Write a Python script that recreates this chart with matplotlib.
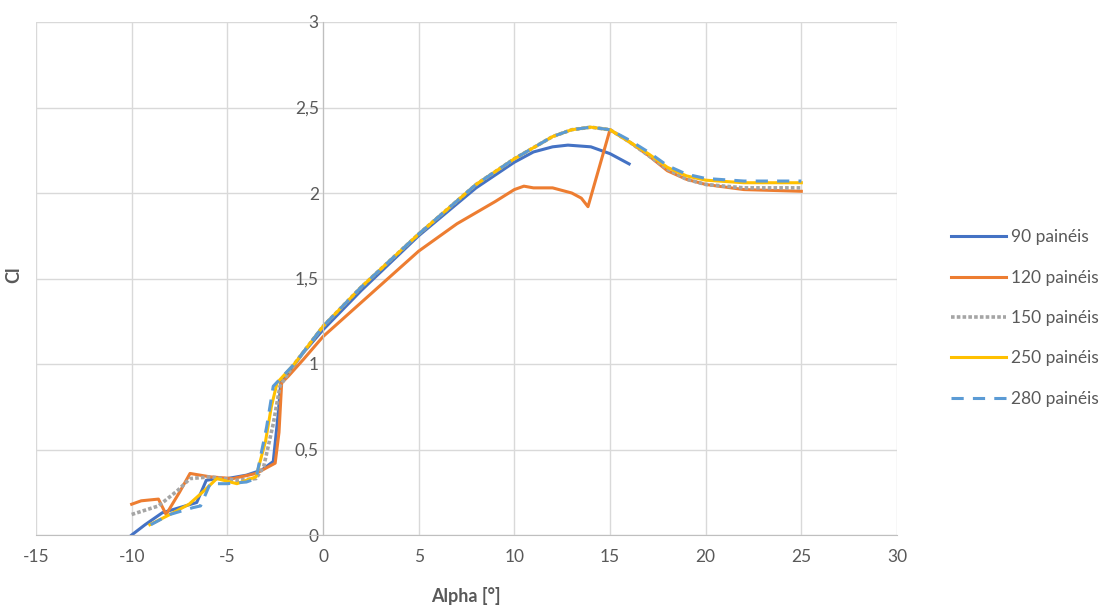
import numpy as np
from matplotlib import pyplot as plt

plt.rcParams['font.family'] = ['Lato', 'DejaVu Sans']
plt.rcParams['axes.unicode_minus'] = False

# 90 paineis
a90 = [-10, -9.3, -8.4, -7.5, -6.6, -6.1, -5.5, -5, -4, -3.2, -2.6, -2.35, -2.2, -1.8, -1, 0, 2, 5, 8, 10, 11, 12, 12.8, 14, 15, 16]
cl90 = [0.0, 0.06, 0.13, 0.16, 0.19, 0.32, 0.33, 0.33, 0.35, 0.38, 0.43, 0.7, 0.9, 0.95, 1.07, 1.2, 1.43, 1.75, 2.03, 2.18, 2.24, 2.27, 2.28, 2.27, 2.23, 2.17]

# 120 paineis
a120 = [-10, -9.5, -8.6, -8.2, -7.5, -6.95, -5.9, -4.7, -3.5, -2.5, -2.3, -2.16, -1.8, -1, 0, 2, 5, 7, 9, 10, 10.5, 11, 12, 13, 13.5, 13.85, 15, 16, 17, 18, 19, 20, 22, 25]
cl120 = [0.18, 0.2, 0.21, 0.12, 0.25, 0.36, 0.34, 0.33, 0.36, 0.42, 0.6, 0.89, 0.93, 1.03, 1.16, 1.36, 1.66, 1.82, 1.95, 2.02, 2.04, 2.03, 2.03, 2.0, 1.97, 1.92, 2.37, 2.3, 2.22, 2.13, 2.08, 2.05, 2.02, 2.01]

# 150 paineis
a150 = [-10, -8.6, -7.6, -6.95, -5.9, -4.5, -3.5, -3.1, -2.6, -2.25, -1.5, 0, 2, 5, 8, 10, 12, 13, 14, 15, 16, 17, 18, 19, 20, 22, 25]
cl150 = [0.12, 0.17, 0.26, 0.33, 0.34, 0.32, 0.33, 0.4, 0.65, 0.87, 1.0, 1.22, 1.45, 1.76, 2.05, 2.2, 2.33, 2.37, 2.385, 2.37, 2.3, 2.22, 2.14, 2.08, 2.05, 2.03, 2.03]

# 250 paineis
a250 = [-9.05, -8, -7, -6.2, -5.55, -4.5, -3.5, -3.0, -2.7, -2.4, -1.5, 0, 2, 5, 8, 10, 12, 13, 14, 15, 16, 17, 18, 19, 20, 22, 25]
cl250 = [0.06, 0.12, 0.18, 0.26, 0.33, 0.3, 0.34, 0.55, 0.75, 0.89, 1.0, 1.22, 1.45, 1.76, 2.05, 2.2, 2.33, 2.37, 2.385, 2.37, 2.3, 2.23, 2.15, 2.1, 2.075, 2.06, 2.06]

# 280 paineis
a280 = [-9.0, -8, -6.8, -6.4, -5.9, -5, -4, -3.5, -2.95, -2.6, -1.5, 0, 2, 5, 8, 10, 12, 13, 14, 15, 16, 17, 18, 19, 20, 22, 25]
cl280 = [0.06, 0.12, 0.16, 0.17, 0.3, 0.3, 0.31, 0.33, 0.63, 0.87, 1.0, 1.22, 1.45, 1.76, 2.05, 2.2, 2.33, 2.37, 2.385, 2.37, 2.31, 2.24, 2.16, 2.11, 2.085, 2.07, 2.07]

fig = plt.figure(figsize=(11.12, 6.08), dpi=100)
ax = fig.add_axes([36/1112, 73/608, 861/1112, 513/608])

ax.plot(a90, cl90, color='#4472C4', lw=2.2, label='90 painéis')
ax.plot(a120, cl120, color='#ED7D31', lw=2.2, label='120 painéis')
ax.plot(a150, cl150, color='#A5A5A5', lw=2.6, ls=(0, (1, 0.6)), label='150 painéis')
ax.plot(a250, cl250, color='#FFC000', lw=2.2, label='250 painéis')
ax.plot(a280, cl280, color='#5B9BD5', lw=2.2, ls=(0, (4, 3)), label='280 painéis')

ax.set_xlim(-15, 30)
ax.set_ylim(0, 3)
ax.set_xticks(np.arange(-15, 31, 5))
ax.set_yticks(np.arange(0, 3.01, 0.5))
ax.set_yticklabels(['0', '0,5', '1', '1,5', '2', '2,5', '3'])
ax.grid(True, color='#D9D9D9', lw=1)
ax.set_axisbelow(True)

for s in ['top', 'right']:
    ax.spines[s].set_visible(False)
ax.spines['left'].set_position(('data', 0))
ax.spines['left'].set_color('#BFBFBF')
ax.spines['bottom'].set_color('#BFBFBF')
ax.tick_params(length=0, labelsize=12.5, labelcolor='#595959')
ax.tick_params(axis='x', pad=10)
ax.tick_params(axis='y', pad=3)

fig.text(466/1112, 12/608, 'Alpha [°]', ha='center', va='center',
         fontsize=13, fontweight='bold', color='#595959')
fig.text(14/1112, (608-275)/608, 'Cl', ha='center', va='center', rotation=90,
         fontsize=13, fontweight='bold', color='#595959')

ax.legend(loc='center left', bbox_to_anchor=(935/1112, (608-318)/608),
          bbox_transform=fig.transFigure, frameon=False, fontsize=12.5,
          labelcolor='#595959', handlelength=3.2, labelspacing=1.4,
          handletextpad=0.3)

fig.savefig('out.png', dpi=100)
